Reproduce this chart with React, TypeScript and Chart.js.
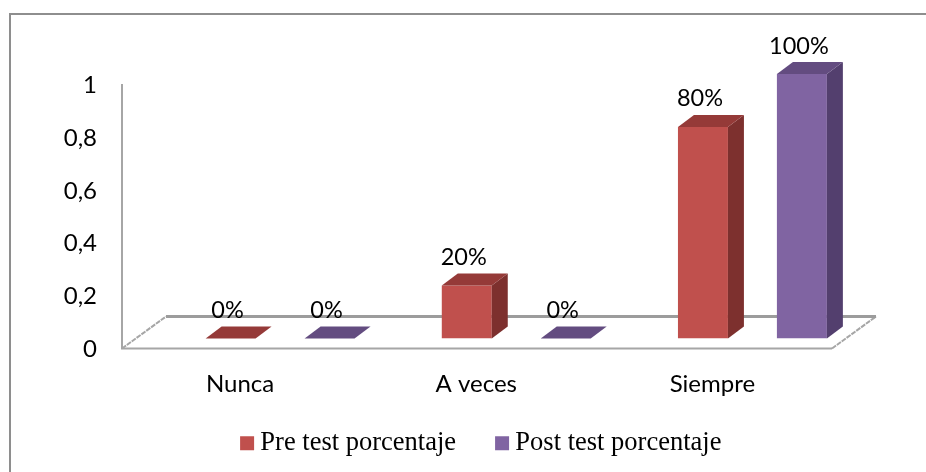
import React, { useEffect, useRef } from "react";
import { Chart, registerables } from "chart.js";

Chart.register(...registerables);

const categories = ["Nunca", "A veces", "Siempre"];
const preTest = [0, 0.2, 0.8];
const postTest = [0, 0, 1];
const seriesNames = ["Pre test porcentaje", "Post test porcentaje"];
const yTicks = [0, 0.2, 0.4, 0.6, 0.8, 1];

const FRONT = ["#C0504D", "#8064A2"];
const TOP = ["#953A38", "#634C80"];
const SIDE = ["#7D302E", "#533F6E"];
const DEPTH_X = 16;
const DEPTH_Y = 12;
const FLOOR_X = 44;
const FLOOR_Y = 32;
const AXIS_SHIFT_X = 40;
const AXIS_SHIFT_RIGHT = 38.5;
const AXIS_SHIFT_Y = 10;
const LEGEND_SHIFT_X = 49;
const LEGEND_TOP = 384;
const SANS = "Lato, 'Open Sans', sans-serif";
const SERIF = "'Liberation Serif', serif";

const frame = {
  id: "frame3d",
  afterLayout(chart: any) {
    const lg = chart.legend;
    const h = lg.bottom - lg.top;
    lg.left += LEGEND_SHIFT_X;
    lg.right += LEGEND_SHIFT_X;
    lg.top = LEGEND_TOP;
    lg.bottom = LEGEND_TOP + h;
  },
  beforeDraw(chart: any) {
    const { ctx, width, height } = chart;
    ctx.save();
    ctx.fillStyle = "#8E8E8E";
    ctx.fillRect(9, 13, width - 9, 2);
    ctx.fillRect(9, 13, 2, height - 13);
    ctx.restore();
  },
  beforeDatasetsDraw(chart: any) {
    const { ctx } = chart;
    const x = chart.scales.x;
    const y = chart.scales.y;
    const left = x.left - AXIS_SHIFT_X;
    const right = x.right - AXIS_SHIFT_RIGHT;
    const bottom = y.getPixelForValue(0) + AXIS_SHIFT_Y;
    const top = y.getPixelForValue(1) + AXIS_SHIFT_Y;
    ctx.save();
    ctx.lineCap = "butt";
    ctx.strokeStyle = "#A6A6A6";
    ctx.lineWidth = 2;
    ctx.beginPath();
    ctx.moveTo(left, top);
    ctx.lineTo(left, bottom);
    ctx.lineTo(right, bottom);
    ctx.stroke();
    ctx.setLineDash([5, 1]);
    ctx.lineWidth = 2;
    ctx.beginPath();
    ctx.moveTo(left, bottom);
    ctx.lineTo(left + FLOOR_X, bottom - FLOOR_Y);
    ctx.moveTo(right, bottom);
    ctx.lineTo(right + FLOOR_X, bottom - FLOOR_Y);
    ctx.stroke();
    ctx.setLineDash([]);
    ctx.strokeStyle = "#9C9C9C";
    ctx.lineWidth = 3;
    ctx.beginPath();
    ctx.moveTo(left + FLOOR_X, bottom - FLOOR_Y);
    ctx.lineTo(right + FLOOR_X, bottom - FLOOR_Y);
    ctx.stroke();
    ctx.restore();
  },
  afterDatasetsDraw(chart: any) {
    const { ctx } = chart;
    ctx.save();
    chart.data.datasets.forEach((ds: any, di: number) => {
      chart.getDatasetMeta(di).data.forEach((bar: any, i: number) => {
        const { x, y, base, width } = bar.getProps(["x", "y", "base", "width"], true);
        const l = x - width / 2;
        const r = x + width / 2;
        ctx.fillStyle = SIDE[di];
        ctx.beginPath();
        ctx.moveTo(r, y);
        ctx.lineTo(r + DEPTH_X, y - DEPTH_Y);
        ctx.lineTo(r + DEPTH_X, base - DEPTH_Y);
        ctx.lineTo(r, base);
        ctx.closePath();
        ctx.fill();
        ctx.fillStyle = TOP[di];
        ctx.beginPath();
        ctx.moveTo(l, y);
        ctx.lineTo(l + DEPTH_X, y - DEPTH_Y);
        ctx.lineTo(r + DEPTH_X, y - DEPTH_Y);
        ctx.lineTo(r, y);
        ctx.closePath();
        ctx.fill();
        ctx.fillStyle = "#000";
        ctx.font = `23.5px ${SANS}`;
        ctx.textAlign = "center";
        ctx.textBaseline = "middle";
        ctx.fillText(`${Math.round(ds.data[i] * 100)}%`, x - 3, y - 28);
      });
    });
    ctx.restore();
  },
};

export default function App() {
  const ref = useRef<HTMLCanvasElement>(null);
  useEffect(() => {
    const chart = new Chart(ref.current!, {
      type: "bar",
      data: {
        labels: categories,
        datasets: [
          { label: seriesNames[0], data: preTest, backgroundColor: FRONT[0], borderWidth: 0 },
          { label: seriesNames[1], data: postTest, backgroundColor: FRONT[1], borderWidth: 0 },
        ],
      },
      plugins: [frame],
      options: {
        responsive: false,
        animation: false,
        layout: { padding: { top: 74, right: 55.5, left: 0, bottom: -11 } },
        datasets: { bar: { categoryPercentage: 0.838, barPercentage: 0.505 } },
        plugins: {
          tooltip: { enabled: false },
          title: { display: false },
          legend: {
            position: "bottom",
            labels: {
              usePointStyle: true,
              pointStyle: "rect",
              boxWidth: 0.01,
              boxHeight: 14,
              padding: 46,
              color: "#000",
              font: { family: SERIF, size: 26.5 },
            },
          },
        },
        scales: {
          x: {
            grid: { display: false },
            border: { display: false },
            afterFit: (s: any) => { s.height = 62; },
            ticks: { color: "#000", font: { family: SANS, size: 24 }, labelOffset: -AXIS_SHIFT_X, padding: 23, maxRotation: 0 },
          },
          y: {
            min: 0,
            max: 1,
            afterFit: (s: any) => { s.width = 162; },
            afterBuildTicks: (s: any) => { s.ticks = yTicks.map((value) => ({ value })); },
            grid: { display: false },
            border: { display: false },
            ticks: {
              color: "#000",
              font: { family: SANS, size: 24 },
              labelOffset: AXIS_SHIFT_Y + 1,
              padding: 57,
              callback: (v: any) => String(v).replace(".", ","),
            },
          },
        },
      },
    } as any);
    return () => chart.destroy();
  }, []);
  return (
    <canvas
      ref={ref}
      width={926}
      height={472}
      style={{ position: "fixed", left: 0, top: 0, width: 926, height: 472, background: "#fff" }}
    />
  );
}
